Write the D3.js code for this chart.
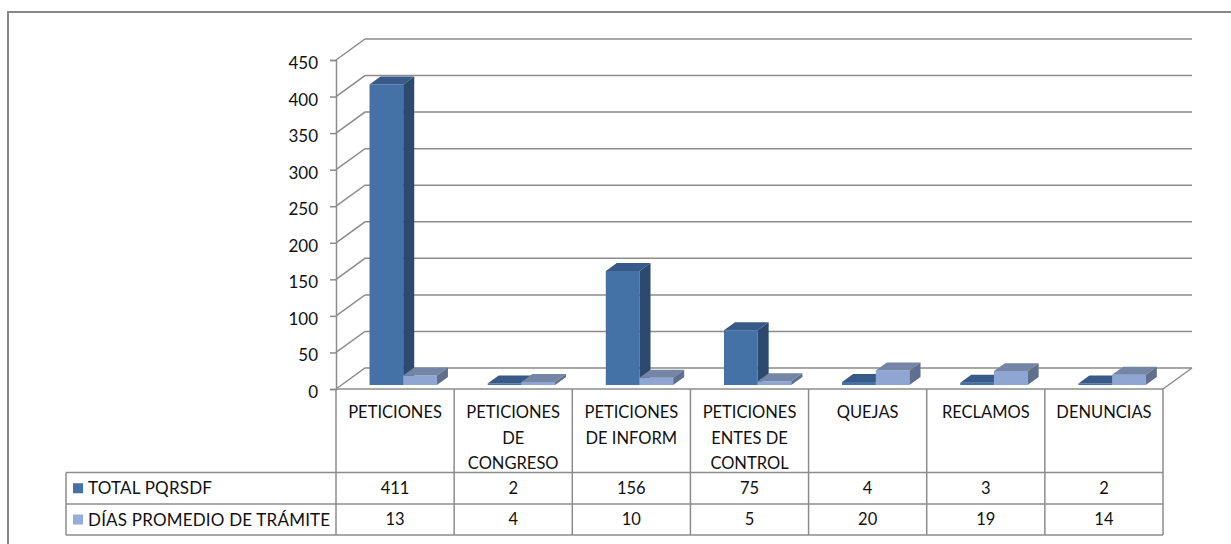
<!DOCTYPE html>
<html>
<head>
<meta charset="utf-8">
<script src="https://cdn.jsdelivr.net/npm/d3@7"></script>
<style>
  html, body { margin: 0; padding: 0; background: #fff; }
  svg { display: block; }
  text { font-family: Lato, "Liberation Sans", Arial, sans-serif; fill: #111; }
</style>
</head>
<body>
<svg id="chart" width="1231" height="544"></svg>
<script>
// Category labels (wrapped as in the data table header)
const categories = ["PETICIONES", "PETICIONES DE CONGRESO", "PETICIONES DE INFORM",
                    "PETICIONES ENTES DE CONTROL", "QUEJAS", "RECLAMOS", "DENUNCIAS"];
const categoryLines = [["PETICIONES"], ["PETICIONES", "DE", "CONGRESO"], ["PETICIONES", "DE INFORM"],
                       ["PETICIONES", "ENTES DE", "CONTROL"], ["QUEJAS"], ["RECLAMOS"], ["DENUNCIAS"]];
// Series values
const totalPqrsdf = [411, 2, 156, 75, 4, 3, 2];
const diasPromedio = [13, 4, 10, 5, 20, 19, 14];
const seriesNames = ["TOTAL PQRSDF", "DÍAS PROMEDIO DE TRÁMITE"];
// Value axis ticks
const yTicks = [0, 50, 100, 150, 200, 250, 300, 350, 400, 450];

const svg = d3.select("#chart");
const FONT = 16.5;
const grid = "#8c8c8c";

// Plot geometry: front plane of the floor and the depth vector of the 3D box
const left = 336, right = 1163;
const depth = { dx: 29, dy: -21 };
const y = d3.scaleLinear().domain([0, 450]).range([389, 60]);
const x = d3.scaleBand().domain(d3.range(categories.length)).range([left, right]);
// Two bars per category, side by side inside the category slot
const xs = d3.scaleBand().domain([0, 1]).range([28, 95.4]).padding(0);

// Bars sit between two depth planes of the box
const f1 = 0.19, f2 = 0.57;
const shift = f => [depth.dx * f, depth.dy * f];

// Outer chart frame
svg.append("rect").attr("x", 8).attr("y", 12).attr("width", 1240).attr("height", 560)
  .attr("fill", "none").attr("stroke", "#878787").attr("stroke-width", 2);

// Back wall gridlines and the diagonal side-wall lines
const gridG = svg.append("g").attr("stroke", grid).attr("stroke-width", 1.5).attr("fill", "none");
yTicks.forEach(t => {
  const yy = y(t);
  gridG.append("path")
    .attr("d", `M${left},${yy}L${left + depth.dx},${yy + depth.dy}L${right + depth.dx},${yy + depth.dy}`);
});
// Floor right edge
gridG.append("path").attr("d", `M${right},${y(0)}L${right + depth.dx},${y(0) + depth.dy}`);

// Value axis
const axisG = svg.append("g").attr("transform", `translate(${left},0)`)
  .call(d3.axisLeft(y).tickValues(yTicks).tickSize(6).tickPadding(12));
axisG.select(".domain").attr("stroke", grid).attr("stroke-width", 1.5);
axisG.selectAll(".tick line").attr("stroke", grid).attr("stroke-width", 1.5);
axisG.selectAll(".tick text").attr("font-size", 17).attr("font-family", "Lato, Liberation Sans, Arial, sans-serif")
  .attr("fill", "#111").attr("dy", "0.5em");

// 3D bars
const palettes = [
  { front: "#4471a6", top: "#385a88", side: "#2d4a6e" },
  { front: "#8fa6d3", top: "#7585a6", side: "#5f6f8c" }
];
const series = [totalPqrsdf, diasPromedio];
const barsG = svg.append("g");
categories.forEach((c, i) => {
  series.forEach((vals, s) => {
    const v = vals[i];
    const [sx, sy] = shift(f1);
    const [ex, ey] = shift(f2 - f1);
    const x0 = x(i) + xs(s) + sx, x1 = x0 + xs.bandwidth();
    const yb = y(0) + sy, yt = y(v) + sy;
    const p = palettes[s];
    const g = barsG.append("g");
    g.append("path").attr("fill", p.front)
      .attr("d", `M${x0},${yb}L${x1},${yb}L${x1},${yt}L${x0},${yt}Z`);
    g.append("path").attr("fill", p.top)
      .attr("d", `M${x0},${yt}L${x1},${yt}L${x1 + ex},${yt + ey}L${x0 + ex},${yt + ey}Z`);
    g.append("path").attr("fill", p.side)
      .attr("d", `M${x1},${yb}L${x1 + ex},${yb + ey}L${x1 + ex},${yt + ey}L${x1},${yt}Z`);
  });
});

// Data table under the plot
const tableTop = y(0), row1 = 472.5, row2 = 504, tableBottom = 535, legendLeft = 66;
const tab = svg.append("g").attr("stroke", grid).attr("stroke-width", 1.5).attr("fill", "none");
tab.append("path").attr("d", `M${left},${tableTop}L${right},${tableTop}`);
[row1, row2, tableBottom].forEach(r => tab.append("path").attr("d", `M${legendLeft},${r}L${right},${r}`));
tab.append("path").attr("d", `M${legendLeft},${row1}L${legendLeft},${tableBottom}`);
d3.range(categories.length + 1).forEach(k => {
  const xx = k < categories.length ? x(k) : right;
  tab.append("path").attr("d", `M${xx},${tableTop}L${xx},${tableBottom}`);
});

// Category headers
categoryLines.forEach((lines, i) => {
  const t = svg.append("text").attr("text-anchor", "middle").attr("font-size", FONT)
    .attr("x", x(i) + x.bandwidth() / 2);
  lines.forEach((ln, k) => {
    t.append("tspan").attr("x", x(i) + x.bandwidth() / 2).attr("y", 418 + k * 25.5).text(ln);
  });
});

// Rows: legend key + values
const rowMid = [(row1 + row2) / 2, (row2 + tableBottom) / 2];
const legendColors = ["#4472a8", "#95aed8"];
series.forEach((vals, s) => {
  svg.append("rect").attr("x", 73).attr("y", rowMid[s] - 5).attr("width", 10).attr("height", 10)
    .attr("fill", legendColors[s]);
  svg.append("text").attr("x", 88).attr("y", rowMid[s]).attr("dy", "0.36em")
    .attr("font-size", 17).attr("letter-spacing", 0.2).text(seriesNames[s]);
  vals.forEach((v, i) => {
    svg.append("text").attr("x", x(i) + x.bandwidth() / 2).attr("y", rowMid[s]).attr("dy", "0.36em")
      .attr("text-anchor", "middle").attr("font-size", FONT).text(v);
  });
});
</script>
</body>
</html>
